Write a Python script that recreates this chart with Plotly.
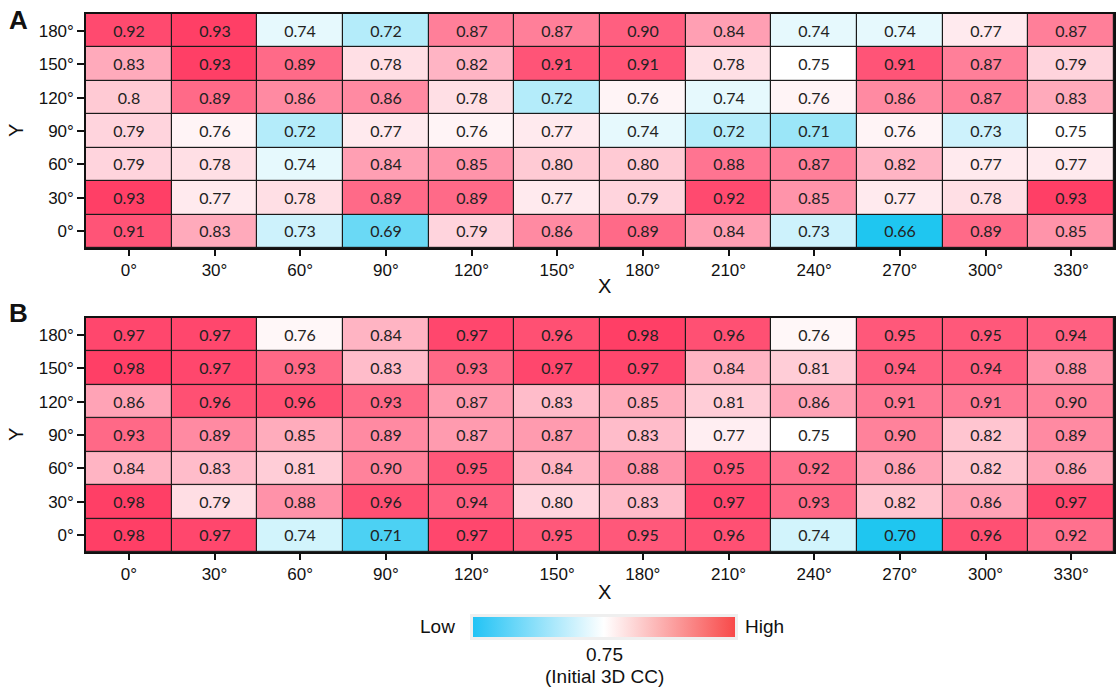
import plotly.graph_objects as go

# Angles along each axis
x_labels = ["0°", "30°", "60°", "90°", "120°", "150°", "180°", "210°", "240°", "270°", "300°", "330°"]
y_labels = ["0°", "30°", "60°", "90°", "120°", "150°", "180°"]

# Panel A values, rows listed from 0° (bottom) to 180° (top)
panel_a = [
    ["0.91", "0.83", "0.73", "0.69", "0.79", "0.86", "0.89", "0.84", "0.73", "0.66", "0.89", "0.85"],
    ["0.93", "0.77", "0.78", "0.89", "0.89", "0.77", "0.79", "0.92", "0.85", "0.77", "0.78", "0.93"],
    ["0.79", "0.78", "0.74", "0.84", "0.85", "0.80", "0.80", "0.88", "0.87", "0.82", "0.77", "0.77"],
    ["0.79", "0.76", "0.72", "0.77", "0.76", "0.77", "0.74", "0.72", "0.71", "0.76", "0.73", "0.75"],
    ["0.8", "0.89", "0.86", "0.86", "0.78", "0.72", "0.76", "0.74", "0.76", "0.86", "0.87", "0.83"],
    ["0.83", "0.93", "0.89", "0.78", "0.82", "0.91", "0.91", "0.78", "0.75", "0.91", "0.87", "0.79"],
    ["0.92", "0.93", "0.74", "0.72", "0.87", "0.87", "0.90", "0.84", "0.74", "0.74", "0.77", "0.87"],
]

# Panel B values, rows listed from 0° (bottom) to 180° (top)
panel_b = [
    ["0.98", "0.97", "0.74", "0.71", "0.97", "0.95", "0.95", "0.96", "0.74", "0.70", "0.96", "0.92"],
    ["0.98", "0.79", "0.88", "0.96", "0.94", "0.80", "0.83", "0.97", "0.93", "0.82", "0.86", "0.97"],
    ["0.84", "0.83", "0.81", "0.90", "0.95", "0.84", "0.88", "0.95", "0.92", "0.86", "0.82", "0.86"],
    ["0.93", "0.89", "0.85", "0.89", "0.87", "0.87", "0.83", "0.77", "0.75", "0.90", "0.82", "0.89"],
    ["0.86", "0.96", "0.96", "0.93", "0.87", "0.83", "0.85", "0.81", "0.86", "0.91", "0.91", "0.90"],
    ["0.98", "0.97", "0.93", "0.83", "0.93", "0.97", "0.97", "0.84", "0.81", "0.94", "0.94", "0.88"],
    ["0.97", "0.97", "0.76", "0.84", "0.97", "0.96", "0.98", "0.96", "0.76", "0.95", "0.95", "0.94"],
]

initial_cc = 0.75  # reference value mapped to white

LOW = "#1FC6F0"
HIGH = "#FF3F66"


def to_float(rows):
    return [[float(v) for v in r] for r in rows]


def diverging_scale(values, mid):
    flat = [v for r in values for v in r]
    lo, hi = min(flat), max(flat)
    pos = (mid - lo) / (hi - lo)
    return [[0.0, LOW], [pos, "#FFFFFF"], [1.0, HIGH]], lo, hi


fig = go.Figure()

tick_font = dict(family="Liberation Sans, Arial", size=17, color="#111")
cell_font = dict(family="Lato, Open Sans", size=16, color="#222")

for rows, xa, ya, cax in [
    (panel_a, "x", "y", "coloraxis"),
    (panel_b, "x2", "y2", "coloraxis2"),
]:
    z = to_float(rows)
    fig.add_trace(go.Heatmap(
        z=z, x=x_labels, y=y_labels, text=rows,
        texttemplate="%{text}", textfont=cell_font,
        xgap=1.2, ygap=1.2, coloraxis=cax,
        xaxis=xa, yaxis=ya, hoverinfo="skip",
    ))

scale_a, lo_a, hi_a = diverging_scale(to_float(panel_a), initial_cc)
scale_b, lo_b, hi_b = diverging_scale(to_float(panel_b), initial_cc)

# Legend bar: a colour axis of its own, attached to an invisible marker
fig.add_trace(go.Scatter(
    x=[x_labels[0]], y=[y_labels[0]], mode="markers", xaxis="x", yaxis="y",
    marker=dict(color=[0.5], coloraxis="coloraxis3", opacity=0, size=1),
    hoverinfo="skip", showlegend=False,
))

axis_common = dict(
    type="category", showgrid=False, zeroline=False,
    showline=True, linecolor="#111", linewidth=1.5, mirror=True,
    ticks="outside", tickcolor="#111", tickwidth=2, tickfont=tick_font,
)
x_range = [-0.5, len(x_labels) - 0.5]
y_range = [-0.5, len(y_labels) - 0.5]

dom_a = [0.6533, 1.0]
dom_b = [0.2030, 0.5496]

fig.update_layout(
    width=1118, height=689,
    margin=dict(l=86, r=4, t=14, b=0),
    paper_bgcolor="white", plot_bgcolor="#1a1a1a",
    showlegend=False,
    xaxis=dict(axis_common, domain=[0, 1], anchor="y", ticklen=6, range=x_range,
               categoryorder="array", categoryarray=x_labels),
    yaxis=dict(axis_common, domain=dom_a, anchor="x", ticklen=7, range=y_range,
               categoryorder="array", categoryarray=y_labels),
    xaxis2=dict(axis_common, domain=[0, 1], anchor="y2", ticklen=6, range=x_range,
                categoryorder="array", categoryarray=x_labels),
    yaxis2=dict(axis_common, domain=dom_b, anchor="x2", ticklen=7, range=y_range,
                categoryorder="array", categoryarray=y_labels),
    coloraxis=dict(colorscale=scale_a, cmin=lo_a, cmax=hi_a, showscale=False),
    coloraxis2=dict(colorscale=scale_b, cmin=lo_b, cmax=hi_b, showscale=False),
    coloraxis3=dict(
        colorscale=[[0.0, "#22C3F5"], [0.5, "#FFFFFF"], [1.0, "#F84A4A"]],
        cmin=0, cmax=1, showscale=True,
        colorbar=dict(
            orientation="h", x=0.5039, xanchor="center", y=0.0919, yanchor="middle",
            len=268, lenmode="pixels", thickness=20, thicknessmode="pixels",
            showticklabels=False, ticks="", outlinewidth=0,
            bgcolor="#EFEFEF", xpad=3, ypad=3,
        ),
    ),
)

ann_font = dict(family="Liberation Sans, Arial", size=19, color="#111")
annotations = [
    dict(text="<b>A</b>", x=18, y=20, size=26),
    dict(text="<b>B</b>", x=18, y=313, size=26),
    dict(text="X", x=604, y=286, size=20),
    dict(text="X", x=604, y=592, size=20),
    dict(text="Y", x=16, y=131, size=20, textangle=-90),
    dict(text="Y", x=16, y=435, size=20, textangle=-90),
    dict(text="Low", x=437, y=626, size=19),
    dict(text="High", x=764, y=626, size=19),
    dict(text="0.75", x=604, y=654, size=19),
    dict(text="(Initial 3D CC)", x=604, y=676, size=19),
]
for a in annotations:
    fig.add_annotation(
        text=a["text"], xref="paper", yref="paper",
        x=(a["x"] - 86) / 1028, y=(689 - a["y"]) / 675,
        xanchor="center", yanchor="middle", showarrow=False,
        textangle=a.get("textangle", 0),
        font=dict(ann_font, size=a["size"]),
    )

fig.write_html("out.html")
